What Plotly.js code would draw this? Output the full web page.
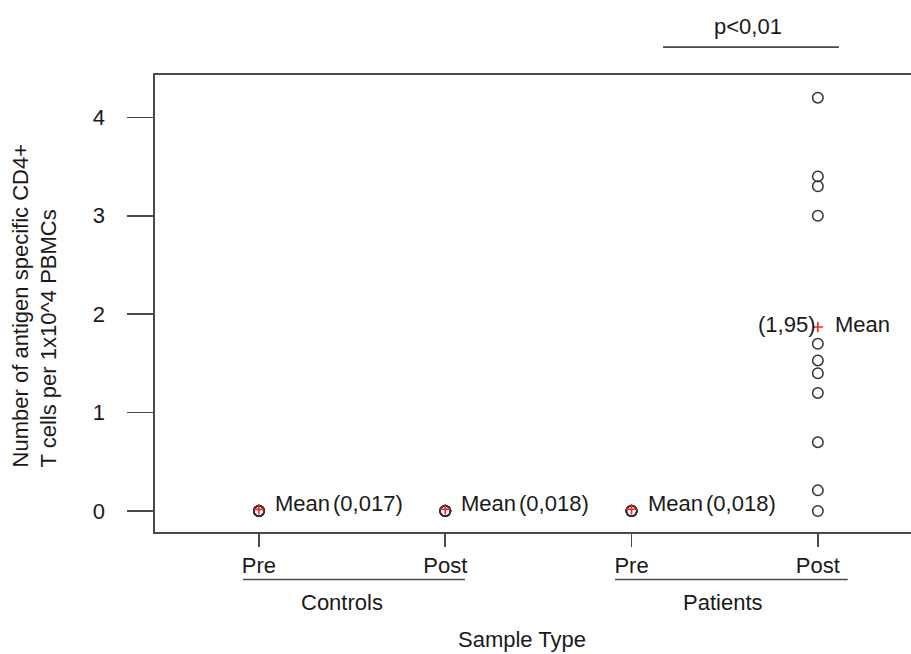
<!DOCTYPE html>
<html>
<head>
<meta charset="utf-8">
<script src="https://cdn.plot.ly/plotly-3.0.1.min.js"></script>
<style>html,body{margin:0;padding:0;background:#fff;}#chart{width:911px;height:654px;}</style>
</head>
<body>
<div id="chart"></div>
<script>
// ---- data ----
var groupNames = ["Controls", "Patients"];
var sampleLabels = ["Pre", "Post", "Pre", "Post"];
var samplePos = [1, 2, 3, 4];
var controlsPre = [0, 0, 0, 0, 0, 0];
var controlsPost = [0, 0, 0, 0, 0, 0];
var patientsPre = [0, 0, 0, 0, 0, 0];
var patientsPost = [4.2, 3.4, 3.3, 3.0, 1.7, 1.53, 1.4, 1.2, 0.7, 0.21, 0];
var meanValues = [0.017, 0.018, 0.018, 1.87];
var meanLabels = ["(0,017)", "(0,018)", "(0,018)", "(1,95)"];
var yTicks = [0, 1, 2, 3, 4];
var pText = "p<0,01";

var font = "Liberation Sans, Arial, Helvetica, sans-serif";
var txt = "#1a1a1a";
var lineCol = "#4a4a4a";

var seriesVals = [controlsPre, controlsPost, patientsPre, patientsPost];
var traces = [];
seriesVals.forEach(function (vals, i) {
  traces.push({
    type: "scatter", mode: "markers",
    x: vals.map(function () { return samplePos[i]; }),
    y: vals,
    marker: { symbol: "circle-open", size: 10.5, color: "#333333", line: { width: 1.5, color: "#333333" } },
    hoverinfo: "skip", showlegend: false
  });
});
traces.push({
  type: "scatter", mode: "markers",
  x: samplePos, y: meanValues,
  marker: { symbol: "cross-thin-open", size: 7.5, color: "#ff2020", line: { width: 1.6, color: "#ff2020" } },
  hoverinfo: "skip", showlegend: false
});

var annotations = [];
for (var i = 0; i < 3; i++) {
  annotations.push({ x: samplePos[i], y: meanValues[i], xref: "x", yref: "y", text: "Mean",
    xanchor: "left", yanchor: "middle", xshift: 14, yshift: 6, showarrow: false,
    font: { family: font, size: 22, color: txt } });
  annotations.push({ x: samplePos[i], y: meanValues[i], xref: "x", yref: "y", text: meanLabels[i],
    xanchor: "left", yanchor: "middle", xshift: 72, yshift: 6, showarrow: false,
    font: { family: font, size: 22, color: txt } });
}
annotations.push({ x: samplePos[3], y: meanValues[3], xref: "x", yref: "y", text: meanLabels[3],
  xanchor: "right", yanchor: "middle", xshift: -1, yshift: 2, showarrow: false,
  font: { family: font, size: 22, color: txt } });
annotations.push({ x: samplePos[3], y: meanValues[3], xref: "x", yref: "y", text: "Mean",
  xanchor: "left", yanchor: "middle", xshift: 15, yshift: 2, showarrow: false,
  font: { family: font, size: 22, color: txt } });
// group labels
annotations.push({ x: 1.446, y: -0.155, xref: "x", yref: "paper", text: groupNames[0],
  xanchor: "center", yanchor: "middle", showarrow: false, font: { family: font, size: 22, color: txt } });
annotations.push({ x: 3.49, y: -0.155, xref: "x", yref: "paper", text: groupNames[1],
  xanchor: "center", yanchor: "middle", showarrow: false, font: { family: font, size: 22, color: txt } });
// x title
annotations.push({ x: 0.486, y: -0.236, xref: "paper", yref: "paper", text: "Sample Type",
  xanchor: "center", yanchor: "middle", showarrow: false, font: { family: font, size: 22, color: txt } });
// y title
annotations.push({ x: -0.197, y: 0.136, xref: "paper", yref: "paper",
  text: "Number of antigen specific CD4+<br>T cells per 1x10^4 PBMCs",
  textangle: -90, align: "left", xanchor: "left", yanchor: "bottom", showarrow: false,
  font: { family: font, size: 22, color: txt } });
// p value
annotations.push({ x: 3.627, y: 1.107, xref: "x", yref: "paper", text: pText,
  xanchor: "center", yanchor: "middle", showarrow: false, font: { family: font, size: 22, color: txt } });

var shapes = [
  { type: "line", xref: "x", yref: "paper", x0: 0.914, x1: 2.106, y0: -0.104, y1: -0.104, line: { color: lineCol, width: 1.6 } },
  { type: "line", xref: "x", yref: "paper", x0: 2.911, x1: 4.16, y0: -0.104, y1: -0.104, line: { color: lineCol, width: 1.6 } },
  { type: "line", xref: "x", yref: "paper", x0: 3.169, x1: 4.113, y0: 1.061, y1: 1.061, line: { color: lineCol, width: 1.6 } }
];

var layout = {
  width: 911, height: 654,
  margin: { l: 155, r: 0, t: 75, b: 122, pad: 0 },
  paper_bgcolor: "#fff", plot_bgcolor: "#fff",
  font: { family: font, size: 22, color: txt },
  xaxis: {
    range: [0.442, 4.5], tickvals: samplePos, ticktext: sampleLabels,
    showline: true, mirror: true, linecolor: lineCol, linewidth: 1.6,
    ticks: "outside", ticklen: 13, tickwidth: 1.6, tickcolor: lineCol,
    showgrid: false, zeroline: false, tickfont: { family: font, size: 22, color: txt },
    ticklabelstandoff: 0
  },
  yaxis: {
    range: [-0.213, 4.43], tickvals: yTicks, ticktext: yTicks.map(String),
    showline: true, mirror: false, linecolor: lineCol, linewidth: 1.6,
    ticks: "outside", ticklen: 26, tickwidth: 1.6, tickcolor: lineCol,
    showgrid: false, zeroline: false, tickfont: { family: font, size: 22, color: txt },
    ticklabelstandoff: 18
  },
  shapes: shapes,
  annotations: annotations,
  showlegend: false
};

Plotly.newPlot("chart", traces, layout, { displayModeBar: false, staticPlot: true });
</script>
</body>
</html>
